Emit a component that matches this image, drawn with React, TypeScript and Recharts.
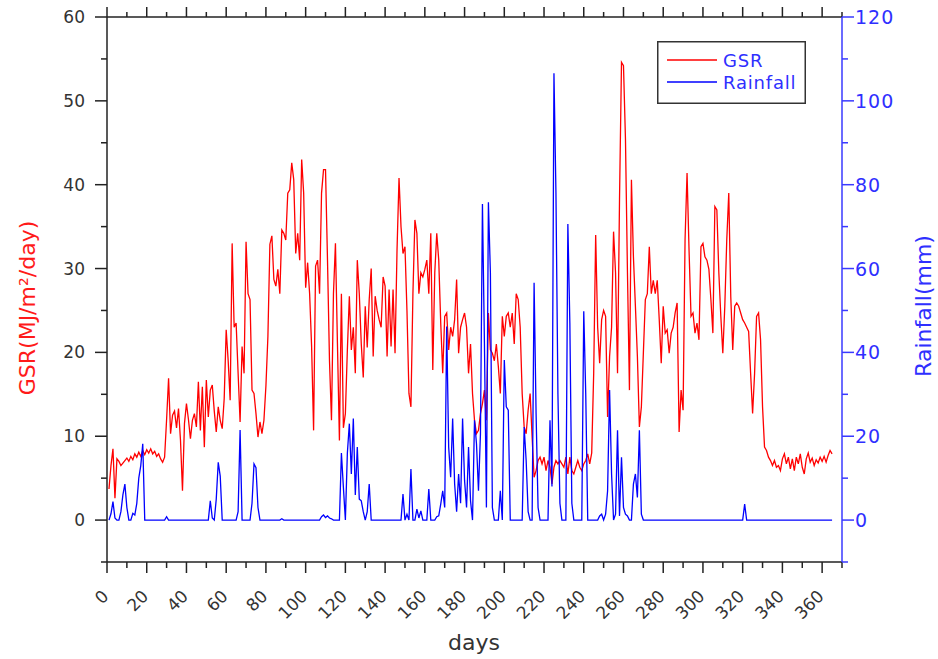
import React from 'react';
import { ComposedChart, Line, XAxis, YAxis, Legend } from 'recharts';

// Daily global solar radiation (MJ/m²/day), days 1..365
const gsr = [
  3.7, 6.5, 8.5, 2.6, 7.3, 7.0, 6.5, 6.8, 7.1, 7.4,
  7.0, 7.6, 7.2, 7.9, 7.5, 8.1, 7.6, 8.3, 7.8, 8.4,
  8.0, 8.5, 7.9, 8.2, 7.6, 7.9, 7.3, 6.9, 7.5, 12.0,
  16.9, 10.3, 12.5, 13.0, 11.0, 13.3, 9.5, 3.5, 11.5, 13.9,
  12.0, 9.7, 11.9, 12.7, 11.1, 16.5, 10.7, 15.9, 8.7, 16.7,
  12.3, 15.5, 16.1, 13.0, 10.5, 13.5, 11.9, 10.9, 14.5, 22.7,
  19.0, 14.3, 33.0, 23.0, 23.5, 17.5, 11.7, 20.7, 17.5, 33.2,
  27.0, 26.3, 15.5, 15.1, 12.7, 9.9, 11.7, 10.3, 11.9, 16.0,
  21.9, 32.9, 33.9, 28.7, 27.9, 29.9, 27.0, 34.6, 34.2, 33.4,
  39.0, 39.4, 42.6, 40.6, 31.8, 34.2, 31.0, 43.0, 39.0, 27.7,
  30.7, 27.0, 20.7, 10.7, 30.3, 31.0, 27.0, 39.0, 41.8, 41.8,
  31.0, 19.0, 11.9, 27.0, 33.0, 21.1, 9.5, 27.0, 11.0, 12.7,
  20.3, 26.7, 20.3, 23.0, 17.5, 31.0, 27.0, 21.0, 17.0, 25.5,
  20.6, 26.3, 30.0, 19.5, 26.7, 25.0, 23.9, 23.0, 29.0, 27.9,
  19.5, 27.5, 20.7, 27.5, 19.9, 32.2, 40.8, 35.0, 31.8, 32.6,
  25.0, 15.1, 13.5, 27.0, 35.8, 34.2, 27.0, 29.5, 29.0, 29.9,
  31.0, 27.0, 34.2, 17.9, 29.5, 34.2, 31.0, 23.5, 17.5, 24.3,
  24.7, 20.3, 23.0, 21.9, 23.9, 28.7, 19.9, 23.0, 23.9, 24.7,
  23.0, 17.5, 21.0, 15.1, 11.9, 10.3, 10.7, 12.7, 13.9, 15.5,
  11.9, 24.7, 20.3, 19.9, 19.0, 21.0, 18.3, 15.1, 24.3, 21.9,
  24.3, 24.7, 23.0, 24.7, 21.0, 27.0, 26.3, 23.0, 15.1, 11.1,
  10.3, 13.1, 15.1, 9.9, 5.1, 5.9, 7.1, 7.5, 6.7, 7.5,
  5.9, 7.1, 6.3, 4.3, 6.3, 7.1, 6.7, 7.1, 6.7, 6.3,
  7.5, 5.5, 7.5, 5.9, 5.5, 6.3, 7.1, 6.3, 5.9, 6.7,
  7.1, 7.9, 6.7, 8.0, 17.5, 34.0, 23.0, 18.7, 23.9, 25.0,
  24.3, 12.3, 19.5, 23.0, 34.4, 29.5, 17.5, 38.2, 54.6, 54.2,
  45.4, 29.5, 15.5, 40.6, 31.4, 25.5, 19.5, 11.1, 13.5, 19.9,
  26.3, 27.0, 32.6, 27.0, 28.6, 27.0, 28.6, 23.9, 18.7, 25.5,
  22.3, 22.7, 19.9, 22.3, 23.0, 24.7, 25.9, 10.5, 15.5, 13.1,
  33.5, 41.4, 32.2, 24.3, 24.7, 22.3, 23.5, 21.5, 32.6, 33.0,
  31.4, 31.0, 29.9, 26.3, 22.3, 37.4, 37.0, 29.5, 24.3, 19.9,
  25.5, 33.5, 39.0, 26.7, 20.3, 25.5, 25.9, 25.5, 24.7, 23.9,
  23.5, 23.0, 22.5, 17.5, 12.7, 17.5, 24.3, 24.7, 21.5, 13.5,
  8.7, 8.3, 7.5, 7.1, 6.5, 7.1, 6.3, 6.5, 5.9, 7.3,
  7.9, 6.7, 7.5, 6.1, 7.3, 5.9, 7.5, 6.7, 7.9, 6.3,
  5.5, 7.3, 8.0, 6.9, 7.4, 6.5, 7.2, 6.8, 7.5, 7.0,
  7.6, 6.9, 7.7, 8.3, 7.9,
];

// Daily rainfall (mm), days 1..365
const rainfall = [
  0, 1.5, 4.4, 0.5, 0, 0, 2.0, 6.0, 8.6, 3.0,
  0, 0, 1.6, 1.2, 4.0, 10.0, 13.0, 18.2, 0, 0,
  0, 0, 0, 0, 0, 0, 0, 0, 0, 0.8,
  0, 0, 0, 0, 0, 0, 0, 0, 0, 0,
  0, 0, 0, 0, 0, 0, 0, 0, 0, 0,
  0, 4.6, 0.5, 0, 5.0, 13.8, 10.5, 0, 0, 0,
  0, 0, 0, 0, 0, 2.0, 21.5, 0, 0, 0,
  0, 0, 4.0, 13.4, 12.5, 3.0, 0, 0, 0, 0,
  0, 0, 0, 0, 0, 0, 0, 0.3, 0, 0,
  0, 0, 0, 0, 0, 0, 0, 0, 0, 0,
  0, 0, 0, 0, 0, 0, 0, 0.8, 1.2, 0.6,
  1.0, 0.5, 0.3, 0, 0, 0, 0, 16.0, 7.8, 0,
  16.0, 23.0, 11.0, 24.2, 6.0, 17.4, 5.0, 4.6, 2.0, 0,
  2.0, 8.6, 0, 0, 0, 0, 0, 0, 0, 0,
  0, 0, 0, 0, 0, 0, 0, 0, 6.2, 0,
  1.4, 0, 12.2, 0, 0, 2.6, 0.5, 2.2, 0, 0,
  0, 7.4, 0, 0, 0, 0.8, 1.0, 3.8, 7.0, 3.0,
  46.2, 17.4, 10.2, 24.2, 8.6, 2.0, 11.0, 4.0, 24.2, 9.4,
  3.0, 17.4, 4.6, 0, 23.8, 18.2, 7.0, 20.6, 75.4, 42.2,
  3.0, 75.8, 59.0, 3.0, 0, 0, 0, 7.0, 0, 38.2,
  27.0, 26.2, 0, 0, 0, 0, 0, 0, 0, 22.2,
  14.2, 2.0, 0, 0, 56.6, 25.4, 3.0, 0, 0, 0,
  0, 0, 23.8, 8.0, 106.6, 78.0, 30.0, 4.0, 0, 0,
  0, 70.6, 47.0, 4.0, 0, 0, 0, 0, 0, 49.8,
  30.0, 0, 0, 0, 0, 0, 0, 1.0, 1.4, 0,
  1.4, 7.0, 31.0, 11.0, 0, 1.4, 21.4, 1.0, 15.0, 3.0,
  1.4, 1.0, 0, 0, 8.6, 11.0, 5.4, 21.4, 1.4, 0,
  0, 0, 0, 0, 0, 0, 0, 0, 0, 0,
  0, 0, 0, 0, 0, 0, 0, 0, 0, 0,
  0, 0, 0, 0, 0, 0, 0, 0, 0, 0,
  0, 0, 0, 0, 0, 0, 0, 0, 0, 0,
  0, 0, 0, 0, 0, 0, 0, 0, 0, 0,
  3.8, 0, 0, 0, 0, 0, 0, 0, 0, 0,
  0, 0, 0, 0, 0, 0, 0, 0, 0, 0,
  0, 0, 0, 0, 0, 0, 0, 0, 0, 0,
  0, 0, 0, 0, 0, 0, 0, 0, 0, 0,
  0, 0, 0, 0, 0,
];

const xTicks = [0, 10, 20, 30, 40, 50, 60, 70, 80, 90, 100, 110, 120, 130, 140, 150, 160, 170, 180, 190, 200, 210, 220, 230, 240, 250, 260, 270, 280, 290, 300, 310, 320, 330, 340, 350, 360, 370];
const xLabelTicks = [0, 20, 40, 60, 80, 100, 120, 140, 160, 180, 200, 220, 240, 260, 280, 300, 320, 340, 360];
const leftTicks = [-5, 0, 5, 10, 15, 20, 25, 30, 35, 40, 45, 50, 55, 60];
const leftLabelTicks = [0, 10, 20, 30, 40, 50, 60];
const rightTicks = [-10, 0, 10, 20, 30, 40, 50, 60, 70, 80, 90, 100, 110, 120];
const rightLabelTicks = [0, 20, 40, 60, 80, 100, 120];

const data = gsr.map((g, i) => ({ day: i + 1, gsr: g, rain: rainfall[i] }));

const FONT = '"DejaVu Sans", "Liberation Sans", Arial, sans-serif';
const AXIS = '#222222';
const RED = '#ff0000';
const BLUE = '#0000ff';
const BLUE_AXIS = '#3a3aff';
const BLUE_TEXT = '#2f2fff';
const TEXT = '#333333';

const BottomTick = (props: any) => {
  const { x, y, payload } = props;
  const v = payload.value;
  const major = xLabelTicks.includes(v);
  return (
    <g>
      <line x1={x} y1={y} x2={x} y2={y + (major ? 11 : 6)} stroke={AXIS} strokeWidth={1.5} />
      {major && (
        <text
          transform={`translate(${x - 1.5},${y + 31}) rotate(-45)`}
          textAnchor="end"
          dominantBaseline="central"
          fontSize={17}
          fontFamily={FONT}
          fill={TEXT}
        >
          {v}
        </text>
      )}
    </g>
  );
};

const TopTick = (props: any) => {
  const { x, y, payload } = props;
  const major = xLabelTicks.includes(payload.value);
  return <line x1={x} y1={y} x2={x} y2={y - (major ? 10 : 5)} stroke={AXIS} strokeWidth={1.5} />;
};

const LeftTick = (props: any) => {
  const { x, y, payload } = props;
  const v = payload.value;
  const major = leftLabelTicks.includes(v);
  return (
    <g>
      <line x1={x} y1={y} x2={x - (major ? 12 : 6)} y2={y} stroke={AXIS} strokeWidth={1.5} />
      {major && (
        <text x={x - 22} y={y} textAnchor="end" dominantBaseline="central" fontSize={17} fontFamily={FONT} fill={TEXT}>
          {v}
        </text>
      )}
    </g>
  );
};

const RightTick = (props: any) => {
  const { x, y, payload } = props;
  const v = payload.value;
  const major = rightLabelTicks.includes(v);
  return (
    <g>
      <line x1={x} y1={y} x2={x + (major ? 12 : 6)} y2={y} stroke={BLUE_AXIS} strokeWidth={1.5} />
      {major && (
        <text x={x + 13} y={y} textAnchor="start" dominantBaseline="central" fontSize={19} letterSpacing={1} fontFamily={FONT} fill={BLUE_TEXT}>
          {v}
        </text>
      )}
    </g>
  );
};

const renderLegend = () => (
  <svg width={149} height={63} style={{ display: 'block' }}>
    <rect x={0.75} y={0.75} width={147.5} height={61.5} fill="#ffffff" stroke="#333333" strokeWidth={1.5} />
    <line x1={10} y1={19} x2={60} y2={19} stroke={RED} strokeWidth={1.3} />
    <text x={66} y={19} dominantBaseline="central" fontSize={18} letterSpacing={0.8} fontFamily={FONT} fill={BLUE_TEXT}>
      GSR
    </text>
    <line x1={10} y1={41} x2={60} y2={41} stroke={BLUE} strokeWidth={1.3} />
    <text x={66} y={41} dominantBaseline="central" fontSize={18} letterSpacing={0.8} fontFamily={FONT} fill={BLUE_TEXT}>
      Rainfall
    </text>
  </svg>
);

export default function App() {
  return (
    <div style={{ position: 'absolute', left: 0, top: 0, width: 938, height: 659, background: '#ffffff' }}>
      <ComposedChart width={938} height={659} data={data} margin={{ top: 0, right: 0, bottom: 0, left: 0 }}>
        <XAxis
          xAxisId="bottom"
          dataKey="day"
          type="number"
          domain={[0, 370]}
          ticks={xTicks}
          interval={0}
          orientation="bottom"
          height={97}
          tickSize={0}
          tickMargin={0}
          tickLine={false}
          tick={<BottomTick />}
          axisLine={{ stroke: AXIS, strokeWidth: 1.5 }}
        />
        <XAxis
          xAxisId="top"
          dataKey="day"
          type="number"
          domain={[0, 370]}
          ticks={xTicks}
          interval={0}
          orientation="top"
          height={17}
          tickSize={0}
          tickMargin={0}
          tickLine={false}
          tick={<TopTick />}
          axisLine={{ stroke: AXIS, strokeWidth: 1.5 }}
        />
        <YAxis
          yAxisId="left"
          orientation="left"
          type="number"
          domain={[-5, 60]}
          ticks={leftTicks}
          interval={0}
          width={107}
          tickSize={0}
          tickMargin={0}
          tickLine={false}
          tick={<LeftTick />}
          axisLine={{ stroke: AXIS, strokeWidth: 1.5 }}
        />
        <YAxis
          yAxisId="right"
          orientation="right"
          type="number"
          domain={[-10, 120]}
          ticks={rightTicks}
          interval={0}
          width={96}
          tickSize={0}
          tickMargin={0}
          tickLine={false}
          tick={<RightTick />}
          axisLine={{ stroke: BLUE_AXIS, strokeWidth: 1.5 }}
        />
        <Legend
          layout="horizontal"
          verticalAlign="middle"
          align="center"
          content={renderLegend}
          wrapperStyle={{ position: 'absolute', left: 657, top: 41, width: 149, height: 63 }}
        />
        <Line
          xAxisId="bottom"
          yAxisId="left"
          type="linear"
          dataKey="gsr"
          name="GSR"
          stroke={RED}
          strokeWidth={1.3}
          dot={false}
          activeDot={false}
          isAnimationActive={false}
        />
        <Line
          xAxisId="bottom"
          yAxisId="right"
          type="linear"
          dataKey="rain"
          name="Rainfall"
          stroke={BLUE}
          strokeWidth={1.3}
          dot={false}
          activeDot={false}
          isAnimationActive={false}
        />
        <text
          transform="translate(27,308) rotate(-90)"
          textAnchor="middle"
          dominantBaseline="central"
          fontSize={22}
          fontFamily={FONT}
          fill="#ff1a1a"
        >
          GSR(MJ/m²/day)
        </text>
        <text
          transform="translate(923,306) rotate(-90)"
          textAnchor="middle"
          dominantBaseline="central"
          fontSize={22}
          fontFamily={FONT}
          fill={BLUE_TEXT}
        >
          Rainfall(mm)
        </text>
        <text x={474} y={650} textAnchor="middle" fontSize={22} fontFamily={FONT} fill={TEXT}>
          days
        </text>
      </ComposedChart>
    </div>
  );
}
